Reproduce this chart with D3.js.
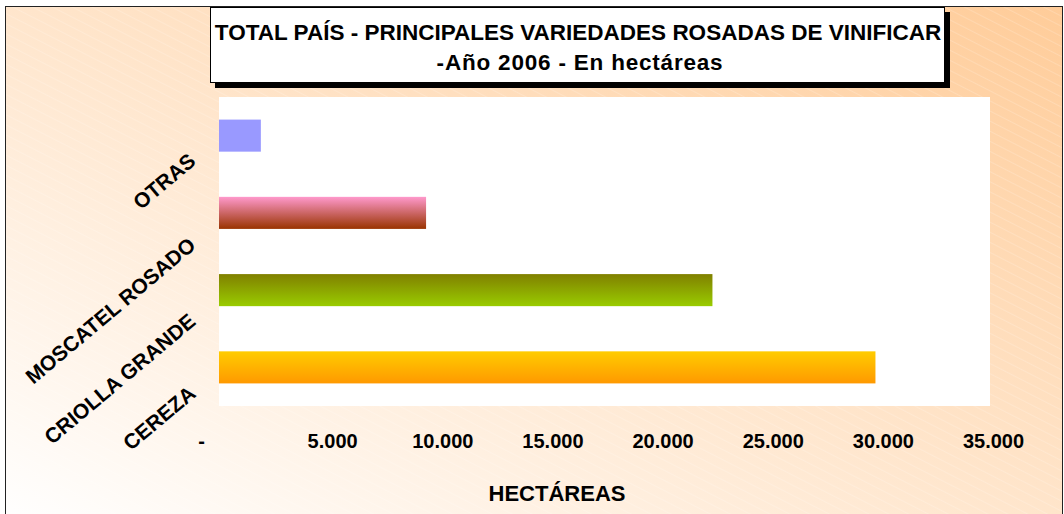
<!DOCTYPE html>
<html>
<head>
<meta charset="utf-8">
<script src="https://cdn.jsdelivr.net/npm/d3@7"></script>
<style>
  body { margin: 0; background: #fff; }
  svg { display: block; font-family: "Liberation Sans", Arial, sans-serif; }
</style>
</head>
<body>
<div id="chart"></div>
<script>
// datos (hectáreas, año 2006)
const variedades = ["OTRAS", "MOSCATEL ROSADO", "CRIOLLA GRANDE", "CEREZA"];
const hectareas = [1900, 9400, 22400, 29800];
const ticks = [0, 5000, 10000, 15000, 20000, 25000, 30000, 35000];
const colorTop = ["#9999FF", "#FF99CC", "#808000", "#FFCC00"];
const colorBottom = ["#9999FF", "#993300", "#99CC00", "#FF9900"];

const width = 1064, height = 514;
const plot = { left: 219, right: 990, top: 97, bottom: 406 };

const svg = d3.select("#chart").append("svg")
    .attr("width", width)
    .attr("height", height);

const defs = svg.append("defs");

// fondo degradado durazno
const bg = defs.append("linearGradient")
    .attr("id", "bg")
    .attr("x1", 1).attr("y1", 0)
    .attr("x2", 0).attr("y2", 1);
bg.append("stop").attr("offset", 0).attr("stop-color", "#FFCC99");
bg.append("stop").attr("offset", 1).attr("stop-color", "#FFFFFF");

const stripes = defs.append("pattern")
    .attr("id", "stripes")
    .attr("patternUnits", "userSpaceOnUse")
    .attr("width", 9).attr("height", 9)
    .attr("patternTransform", "rotate(27)");
stripes.append("line")
    .attr("x1", 0).attr("y1", 0).attr("x2", 9).attr("y2", 0)
    .attr("stroke", "#fff").attr("stroke-opacity", 0.35).attr("stroke-width", 1);

// un degradado vertical por barra
variedades.forEach((v, i) => {
    const g = defs.append("linearGradient")
        .attr("id", "bar" + i)
        .attr("x1", 0).attr("y1", 0).attr("x2", 0).attr("y2", 1);
    g.append("stop").attr("offset", 0).attr("stop-color", colorTop[i]);
    g.append("stop").attr("offset", 1).attr("stop-color", colorBottom[i]);
});

// area del grafico
svg.append("rect")
    .attr("x", 5.5).attr("y", 6.5)
    .attr("width", 1057).attr("height", 520)
    .attr("fill", "url(#bg)")
    .attr("stroke", "#222").attr("stroke-width", 1);
svg.append("rect")
    .attr("x", 6).attr("y", 7)
    .attr("width", 1056).attr("height", 520)
    .attr("fill", "url(#stripes)");

// area de trazado
svg.append("rect")
    .attr("x", plot.left).attr("y", plot.top)
    .attr("width", plot.right - plot.left)
    .attr("height", plot.bottom - plot.top)
    .attr("fill", "#fff");

const x = d3.scaleLinear()
    .domain([0, 35000])
    .range([plot.left, plot.right]);

const y = d3.scaleBand()
    .domain(variedades)
    .range([plot.top, plot.bottom])
    .paddingInner(0.585)
    .paddingOuter(0.2925);

const data = variedades.map((v, i) => ({ name: v, value: hectareas[i], idx: i }));

svg.append("g")
    .selectAll("rect")
    .data(data)
    .join("rect")
    .attr("x", x(0))
    .attr("y", d => y(d.name))
    .attr("width", d => x(d.value) - x(0))
    .attr("height", y.bandwidth())
    .attr("fill", d => "url(#bar" + d.idx + ")");

// eje X (formato contable: 0 se muestra como "-")
const fmt = d3.formatLocale({ decimal: ",", thousands: ".", grouping: [3], currency: ["", ""] }).format(",.0f");
const xAxis = d3.axisBottom(x)
    .tickValues(ticks)
    .tickSize(0)
    .tickFormat(d => d === 0 ? "-" : fmt(d));

const gx = svg.append("g")
    .attr("transform", `translate(0,${plot.bottom})`)
    .call(xAxis);
gx.select(".domain").remove();
gx.selectAll("text")
    .attr("y", 0)
    .attr("dy", 42)
    .attr("dx", d => d === 0 ? -18 : 3)
    .attr("fill", "#000")
    .style("font-family", "'Liberation Sans', Arial, sans-serif")
    .style("font-weight", "bold")
    .style("font-size", "20px");

// eje Y con etiquetas inclinadas
const labels = svg.append("g")
    .selectAll("text")
    .data(data)
    .join("text")
    .attr("text-anchor", "end")
    .attr("font-weight", "bold")
    .attr("font-size", 21)
    .attr("fill", "#000")
    .text(d => d.name);
labels.attr("transform", function(d) {
    const len = this.getComputedTextLength();
    const cy = y(d.name) + y.bandwidth() / 2 + 24 + 0.05 * len;
    return `translate(197,${cy}) rotate(-40)`;
});

svg.append("text")
    .attr("x", 557)
    .attr("y", 501)
    .attr("text-anchor", "middle")
    .attr("font-weight", "bold")
    .attr("font-size", 22)
    .text("HECTÁREAS");

// titulo con sombra
const title = svg.append("g");
title.append("rect")
    .attr("x", 215).attr("y", 12)
    .attr("width", 735).attr("height", 76)
    .attr("fill", "#000");
title.append("rect")
    .attr("x", 210.5).attr("y", 7.5)
    .attr("width", 734).attr("height", 75)
    .attr("fill", "#fff")
    .attr("stroke", "#000").attr("stroke-width", 1);
title.append("text")
    .attr("x", 578).attr("y", 40)
    .attr("text-anchor", "middle")
    .attr("font-weight", "bold")
    .attr("font-size", 22.5)
    .text("TOTAL PAÍS - PRINCIPALES VARIEDADES ROSADAS DE VINIFICAR");
title.append("text")
    .attr("x", 580).attr("y", 70)
    .attr("text-anchor", "middle")
    .attr("font-weight", "bold")
    .attr("font-size", 22.5)
    .attr("letter-spacing", 0.8)
    .text("-Año 2006 - En hectáreas");
</script>
</body>
</html>
